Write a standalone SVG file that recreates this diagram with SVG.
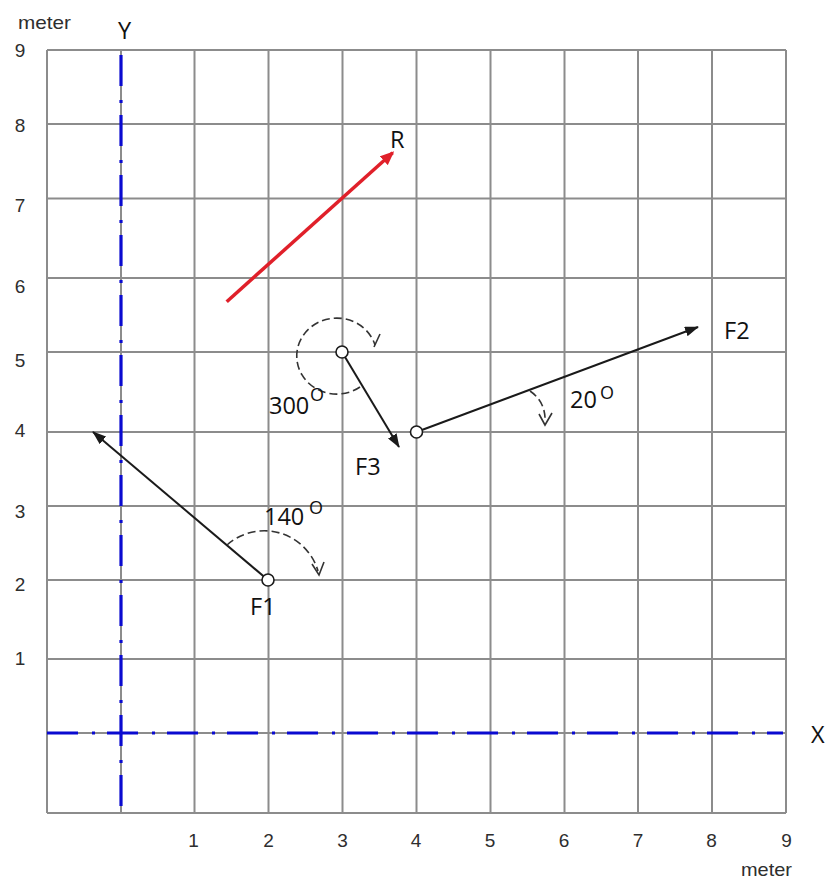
<svg xmlns="http://www.w3.org/2000/svg" width="827" height="880" viewBox="0 0 827 880">
<defs>
<style>
.grid line{stroke:#8c8c8c;stroke-width:2}
.axis{stroke:#0a0ad0;stroke-width:3.2;stroke-dasharray:31 14 3 12;fill:none}
.num{font-family:"Liberation Sans",Arial,sans-serif;font-size:19px;fill:#2e2e2e;text-anchor:middle}
.unit{font-family:"Liberation Sans",Arial,sans-serif;font-size:19px;fill:#2e2e2e}
.lbl{font-family:"Open Sans",Lato,sans-serif;font-size:23.5px;fill:#111}
.sup{font-family:"Open Sans",Lato,sans-serif;font-size:18px;fill:#111}
.vec{stroke:#1a1a1a;stroke-width:2;fill:none}
.res{stroke:#e0202a;stroke-width:3.5;fill:none}
.arc{stroke:#333;stroke-width:1.6;stroke-dasharray:8 4;fill:none}
.tick{stroke:#333;stroke-width:1.6;fill:none}
.pt{fill:#fff;stroke:#1a1a1a;stroke-width:1.6}
</style>
<marker id="ah" viewBox="0 0 14 10" refX="13" refY="5" markerWidth="14" markerHeight="10" markerUnits="userSpaceOnUse" orient="auto">
<path d="M0,0 L14,5 L0,10 z" fill="#1a1a1a"/>
</marker>
<marker id="ahr" viewBox="0 0 14 12" refX="12" refY="6" markerWidth="14" markerHeight="12" markerUnits="userSpaceOnUse" orient="auto">
<path d="M0,0 L14,6 L0,12 z" fill="#e0202a"/>
</marker>
</defs>
<rect width="827" height="880" fill="#fff"/>

<g id="grid" class="grid">
<line x1="47" y1="50" x2="47" y2="813"/>
<line x1="121" y1="50" x2="121" y2="813"/>
<line x1="194.5" y1="50" x2="194.5" y2="813"/>
<line x1="268.5" y1="50" x2="268.5" y2="813"/>
<line x1="342.5" y1="50" x2="342.5" y2="813"/>
<line x1="416.5" y1="50" x2="416.5" y2="813"/>
<line x1="490.5" y1="50" x2="490.5" y2="813"/>
<line x1="564.5" y1="50" x2="564.5" y2="813"/>
<line x1="638" y1="50" x2="638" y2="813"/>
<line x1="712" y1="50" x2="712" y2="813"/>
<line x1="786" y1="50" x2="786" y2="813"/>
<line x1="47" y1="50" x2="786" y2="50"/>
<line x1="47" y1="124" x2="786" y2="124"/>
<line x1="47" y1="198.5" x2="786" y2="198.5"/>
<line x1="47" y1="278" x2="786" y2="278"/>
<line x1="47" y1="352" x2="786" y2="352"/>
<line x1="47" y1="432" x2="786" y2="432"/>
<line x1="47" y1="506" x2="786" y2="506"/>
<line x1="47" y1="580" x2="786" y2="580"/>
<line x1="47" y1="659" x2="786" y2="659"/>
<line x1="47" y1="733" x2="786" y2="733"/>
<line x1="47" y1="813" x2="786" y2="813"/>
</g>

<g id="axes">
<line class="axis" x1="47" y1="733" x2="783" y2="733"/>
<line class="axis" x1="121" y1="55" x2="121" y2="806"/>
<text class="lbl" x="118" y="39">Y</text>
<text class="lbl" x="811" y="743">X</text>
</g>

<g id="axis-numbers">
<text class="unit" x="18" y="29" textLength="53" lengthAdjust="spacingAndGlyphs">meter</text>
<text class="num" x="20" y="57">9</text>
<text class="num" x="20" y="132">8</text>
<text class="num" x="20" y="212">7</text>
<text class="num" x="20" y="293">6</text>
<text class="num" x="20" y="367">5</text>
<text class="num" x="20" y="437">4</text>
<text class="num" x="20" y="518">3</text>
<text class="num" x="20" y="591">2</text>
<text class="num" x="20" y="665">1</text>
<text class="num" x="193.5" y="847">1</text>
<text class="num" x="268.5" y="847">2</text>
<text class="num" x="342.5" y="847">3</text>
<text class="num" x="416" y="847">4</text>
<text class="num" x="490" y="847">5</text>
<text class="num" x="564" y="847">6</text>
<text class="num" x="638" y="847">7</text>
<text class="num" x="711.5" y="847">8</text>
<text class="num" x="786.5" y="847">9</text>
<text class="unit" x="741" y="876" textLength="51" lengthAdjust="spacingAndGlyphs">meter</text>
</g>

<g id="connectors">
<line id="vec-R" class="res" x1="226.7" y1="301.7" x2="392.7" y2="152.7" marker-end="url(#ahr)"/>
<line id="vec-F1" class="vec" x1="268" y1="580" x2="93" y2="432" marker-end="url(#ah)"/>
<line id="vec-F2" class="vec" x1="416.5" y1="432" x2="698" y2="327" marker-end="url(#ah)"/>
<line id="vec-F3" class="vec" x1="342" y1="352" x2="399" y2="447" marker-end="url(#ah)"/>
<path id="arc-300" class="arc" d="M 360 387 A 40 38 0 1 1 375 345"/>
<path class="tick" d="M 374 347 L 380 334"/>
<path id="arc-140" class="arc" d="M 227 545 A 56 56 0 0 1 318 571"/>
<path class="tick" d="M 312 564 L 319 575 L 324 562"/>
<path id="arc-20" class="arc" d="M 530 391 Q 546 402 545 422"/>
<path class="tick" d="M 539 414 L 545 425 L 552 413"/>
</g>

<g id="node-F1">
<circle class="pt" cx="268" cy="580" r="6"/>
<text class="lbl" x="250" y="615">F1</text>
<text class="lbl" x="264" y="525">140</text>
<text class="sup" x="309" y="514">O</text>
</g>
<g id="node-F2">
<circle class="pt" cx="416.5" cy="432" r="6"/>
<text class="lbl" x="724" y="339">F2</text>
<text class="lbl" x="570" y="408">20</text>
<text class="sup" x="600" y="399">O</text>
</g>
<g id="node-F3">
<circle class="pt" cx="342" cy="352" r="6"/>
<text class="lbl" x="355" y="475">F3</text>
<text class="lbl" x="269" y="414">300</text>
<text class="sup" x="310" y="401">O</text>
</g>
<g id="node-R">
<text class="lbl" x="390" y="148">R</text>
</g>
</svg>
